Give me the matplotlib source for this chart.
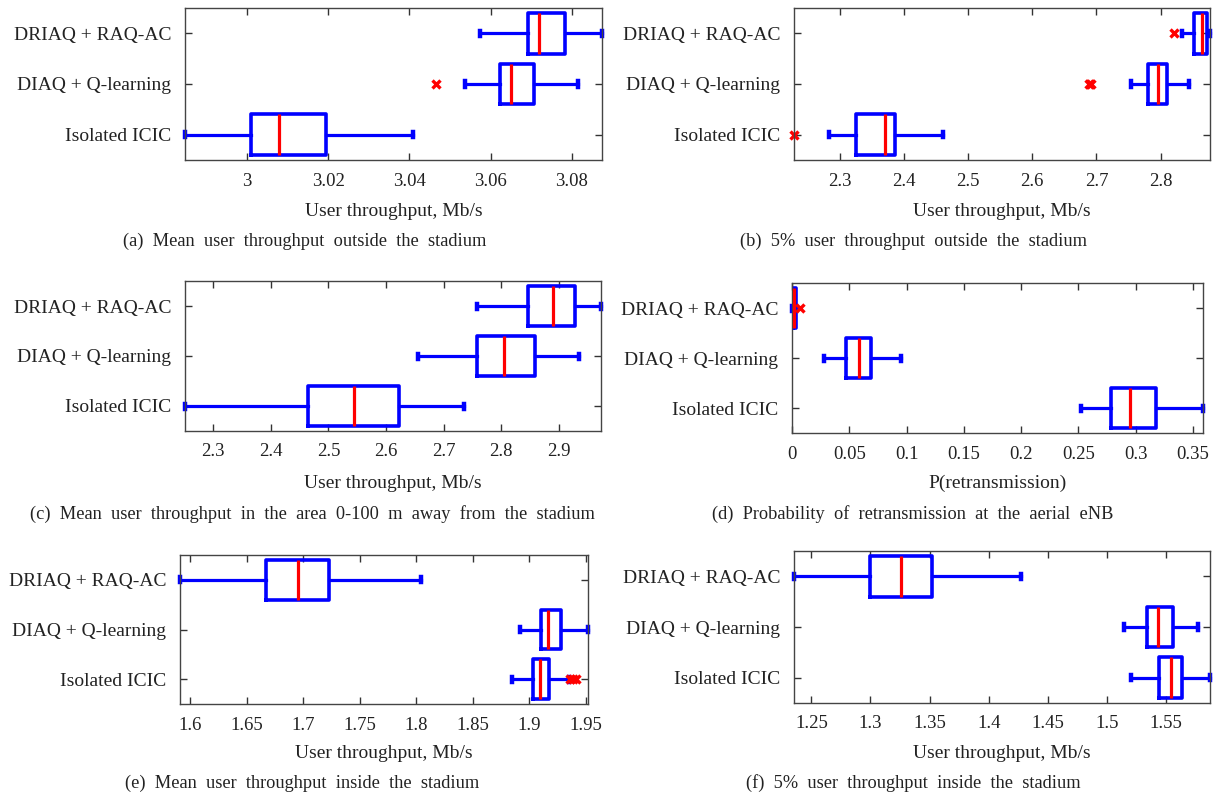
import numpy as np
import matplotlib

# no display in the sandbox
matplotlib.use("Agg")

import matplotlib.pyplot as plt
from matplotlib.ticker import FuncFormatter

plt.rcParams["font.family"] = ["Liberation Serif", "DejaVu Serif"]

# ----- data -----
# order: bottom -> top
schemes = ["Isolated ICIC", "DIAQ + Q-learning", "DRIAQ + RAQ-AC"]

# (a) mean user throughput outside the stadium
a_whislo = [2.9848, 3.0536, 3.0573]
a_q1 = [3.0010, 3.0622, 3.0692]
a_med = [3.0080, 3.0650, 3.0720]
a_q3 = [3.0194, 3.0706, 3.0784]
a_whishi = [3.0410, 3.0816, 3.0874]
a_fliers = [[], [3.0465], []]
a_ticks = [3.0, 3.02, 3.04, 3.06, 3.08]

# (b) 5% user throughput outside the stadium
b_whislo = [2.2834, 2.7537, 2.8327]
b_q1 = [2.3250, 2.7797, 2.8525]
b_med = [2.3700, 2.7953, 2.8653]
b_q3 = [2.3868, 2.8093, 2.8717]
b_whishi = [2.4610, 2.8447, 2.8770]
b_fliers = [[2.2292], [2.6890, 2.6905, 2.6920], [2.8213]]
b_ticks = [2.3, 2.4, 2.5, 2.6, 2.7, 2.8]

# (c) mean user throughput 0-100 m away from the stadium
c_whislo = [2.2507, 2.6554, 2.7580]
c_q1 = [2.4652, 2.7580, 2.8461]
c_med = [2.5446, 2.8043, 2.8896]
c_q3 = [2.6229, 2.8594, 2.9290]
c_whishi = [2.7359, 2.9348, 2.9736]
c_fliers = [[], [], []]
c_ticks = [2.3, 2.4, 2.5, 2.6, 2.7, 2.8, 2.9]

# (d) probability of retransmission at the aerial eNB
d_whislo = [0.2519, 0.0276, 0.0]
d_q1 = [0.2787, 0.0474, 0.0005]
d_med = [0.2947, 0.0582, 0.0020]
d_q3 = [0.3180, 0.0692, 0.0035]
d_whishi = [0.3587, 0.0948, 0.0035]
d_fliers = [[], [], [0.0066]]
d_ticks = [0, 0.05, 0.1, 0.15, 0.2, 0.25, 0.3, 0.35]

# (e) mean user throughput inside the stadium
e_whislo = [1.8845, 1.8919, 1.5912]
e_q1 = [1.9031, 1.9105, 1.6669]
e_med = [1.9096, 1.9164, 1.6953]
e_q3 = [1.9170, 1.9279, 1.7233]
e_whishi = [1.9347, 1.9518, 1.8043]
e_fliers = [[1.9358, 1.9385, 1.9412], [], []]
e_ticks = [1.6, 1.65, 1.7, 1.75, 1.8, 1.85, 1.9, 1.95]

# (f) 5% user throughput inside the stadium
f_whislo = [1.5206, 1.5144, 1.2353]
f_q1 = [1.5441, 1.5336, 1.3000]
f_med = [1.5545, 1.5435, 1.3262]
f_q3 = [1.5638, 1.5562, 1.3522]
f_whishi = [1.5872, 1.5774, 1.4269]
f_fliers = [[], [], []]
f_ticks = [1.25, 1.3, 1.35, 1.4, 1.45, 1.5, 1.55]

panels = [
    # whislo, q1, med, q3, whishi, fliers, xlim, ticks, xlabel, caption
    (a_whislo, a_q1, a_med, a_q3, a_whishi, a_fliers, (2.9848, 3.0874), a_ticks,
     "User throughput, Mb/s", "(a) Mean user throughput outside the stadium"),
    (b_whislo, b_q1, b_med, b_q3, b_whishi, b_fliers, (2.2288, 2.877), b_ticks,
     "User throughput, Mb/s", "(b) 5% user throughput outside the stadium"),
    (c_whislo, c_q1, c_med, c_q3, c_whishi, c_fliers, (2.2507, 2.9736), c_ticks,
     "User throughput, Mb/s",
     "(c) Mean user throughput in the area 0-100 m away from the stadium"),
    (d_whislo, d_q1, d_med, d_q3, d_whishi, d_fliers, (0.0, 0.3587), d_ticks,
     "P(retransmission)", "(d) Probability of retransmission at the aerial eNB"),
    (e_whislo, e_q1, e_med, e_q3, e_whishi, e_fliers, (1.5912, 1.9518), e_ticks,
     "User throughput, Mb/s", "(e) Mean user throughput inside the stadium"),
    (f_whislo, f_q1, f_med, f_q3, f_whishi, f_fliers, (1.2353, 1.5872), f_ticks,
     "User throughput, Mb/s", "(f) 5% user throughput inside the stadium"),
]

# ----- layout (pixel boxes of each axes: left, top, right, bottom) -----
W, H = 1218, 798
boxes = [
    (185, 8, 602, 160),
    (794, 8, 1210, 160),
    (185, 281, 601, 431),
    (792, 283, 1203, 433),
    (180, 555, 588, 704),
    (794, 551, 1210, 703),
]
xlabel_y = [212, 212, 483, 483, 753, 753]
caption_y = [241, 241, 514, 514, 783, 783]
caption_x = [305, 913, 312, 913, 302, 913]

BLUE = "#0000ff"
RED = "#ff0000"
INK = "#222222"

fig = plt.figure(figsize=(W / 100, H / 100), dpi=100)

for i, (wlo, q1, med, q3, whi, fl, xlim, ticks, xlab, cap) in enumerate(panels):
    l, t, r, b = boxes[i]
    ax = fig.add_axes([l / W, 1 - b / H, (r - l) / W, (b - t) / H])

    stats = []
    for k in range(3):
        stats.append(dict(whislo=wlo[k], q1=q1[k], med=med[k], q3=q3[k],
                          whishi=whi[k], fliers=fl[k], label=schemes[k]))

    parts = ax.bxp(stats, positions=[1, 2, 3], widths=0.8,
                   orientation="horizontal", capwidths=0.1, patch_artist=False,
                   boxprops=dict(color=BLUE, linewidth=2.6),
                   whiskerprops=dict(color=BLUE, linewidth=2.3),
                   capprops=dict(color=BLUE, linewidth=3.2),
                   medianprops=dict(color=RED, linewidth=2.3, zorder=4),
                   flierprops=dict(marker="x", markeredgecolor=RED, markersize=6,
                                   markeredgewidth=2.4, linestyle="none"))
    # marks sitting on the frame stay whole, as in the original
    for key in ("caps", "whiskers", "fliers"):
        for art in parts[key]:
            art.set_clip_on(False)

    ax.set_xlim(*xlim)
    ax.set_ylim(0.5, 3.5)
    ax.set_xticks(ticks)
    ax.xaxis.set_major_formatter(FuncFormatter(lambda v, p: f"{v:g}"))
    ax.set_yticks([1, 2, 3])
    ax.set_yticklabels(schemes)

    ax.tick_params(axis="both", direction="in", length=5, width=1,
                   color="#333333", labelcolor=INK)
    ax.tick_params(axis="x", top=True, labelsize=13.5, pad=9)
    ax.tick_params(axis="y", right=True, labelsize=14, pad=10)
    for s in ax.spines.values():
        s.set_color("#444444")
        s.set_linewidth(1.0)

    ax.set_xlabel(xlab, fontsize=14, color=INK)
    ax.xaxis.label.set_verticalalignment("center")
    ax.xaxis.set_label_coords(0.5, -(xlabel_y[i] - b) / (b - t))

    # captions are set with wide word spacing in the paper
    fig.text(caption_x[i] / W, 1 - caption_y[i] / H,
             cap.replace(" ", "\u2002"), ha="center", va="center",
             fontsize=13.2, color=INK)

fig.savefig("out.png", dpi=100)
